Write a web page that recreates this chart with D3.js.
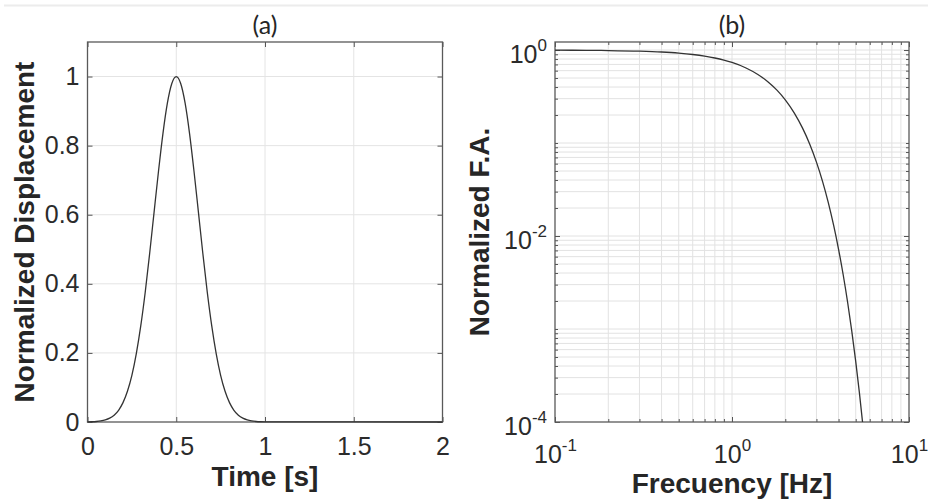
<!DOCTYPE html>
<html>
<head>
<meta charset="utf-8">
<script src="https://cdn.jsdelivr.net/npm/d3@7"></script>
<style>
  body { margin: 0; background: #fff; }
  svg { display: block; }
  .tick text { font-family: "Liberation Sans", Arial, sans-serif; fill: #2b2b2b; }
  .label { font-family: "Liberation Sans", Arial, sans-serif; font-weight: bold; font-size: 28px; fill: #262626; }
  .title { font-family: Lato, "Open Sans", sans-serif; font-size: 25px; fill: #262626; }
</style>
</head>
<body>
<div id="container"></div>
<script>
// (a) pulse
var timeS = [0, 0.025, 0.05, 0.075, 0.1, 0.125, 0.15, 0.175, 0.2, 0.225, 0.25, 0.275, 0.3, 0.325, 0.35, 0.375, 0.4, 0.425, 0.45, 0.475,
  0.5, 0.525, 0.55, 0.575, 0.6, 0.625, 0.65, 0.675, 0.7, 0.725, 0.75, 0.775, 0.8, 0.825, 0.85, 0.875, 0.9, 0.925, 0.95, 0.975, 1.0, 2.0];
var dispN = [0.0003, 0.0007, 0.0015, 0.0031, 0.006, 0.0111, 0.0198, 0.034, 0.0561, 0.0889, 0.135, 0.198, 0.278, 0.375, 0.487, 0.607, 0.726, 0.835, 0.923, 0.98,
  1.0, 0.98, 0.923, 0.835, 0.726, 0.607, 0.487, 0.375, 0.278, 0.198, 0.135, 0.0889, 0.0561, 0.034, 0.0198, 0.0111, 0.006, 0.0031, 0.0015, 0.0007, 0.0003, 0];

// (b) spectrum
var freqHz = [0.1, 0.15, 0.2, 0.3, 0.4, 0.5, 0.6, 0.7, 0.8, 0.9, 1.0, 1.2, 1.4, 1.6, 1.8, 2.0, 2.25, 2.5, 2.75, 3.0,
  3.25, 3.5, 3.75, 4.0, 4.25, 4.5, 4.75, 5.0, 5.25, 5.5, 5.75];
var fourierA = [0.9969, 0.9931, 0.9877, 0.9726, 0.9519, 0.9258, 0.8949, 0.8598, 0.8209, 0.779, 0.7346, 0.6414, 0.5463, 0.4541, 0.3681, 0.2913, 0.2099, 0.1455, 0.0971, 0.0623,
  0.0385, 0.0229, 0.01308, 0.0072, 0.00381, 0.00194, 0.000951, 0.000448, 0.000203, 0.0000887, 0.0000373];

var timeTicks = [0, 0.5, 1, 1.5, 2];
var timeLabels = ["0", "0.5", "1", "1.5", "2"];
var dispTicks = [0, 0.2, 0.4, 0.6, 0.8, 1];
var dispLabels = ["0", "0.2", "0.4", "0.6", "0.8", "1"];
var freqTicks = [0.1, 1, 10];
var freqExp = ["-1", "0", "1"];
var faTicks = [1e-4, 1e-2, 1];
var faExp = ["-4", "-2", "0"];

var width = 928, height = 500;
var svg = d3.select("#container").append("svg")
  .attr("width", width)
  .attr("height", height);

// faint rule at the very top
svg.append("line")
  .attr("x1", 4).attr("x2", width).attr("y1", 5.5).attr("y2", 5.5)
  .attr("stroke", "#ececec").attr("stroke-width", 2);

var pa = {x0: 87.5, x1: 442.5, y0: 42, y1: 422};
var pb = {x0: 555, x1: 909, y0: 42, y1: 422};

var xA = d3.scaleLinear().domain([0, 2]).range([pa.x0, pa.x1]);
var yA = d3.scaleLinear().domain([0, 1.1]).range([pa.y1, pa.y0]);
var xB = d3.scaleLog().domain([0.1, 10]).range([pb.x0, pb.x1]);
var yB = d3.scaleLog().domain([1e-4, 1.22]).range([pb.y1, pb.y0]);

function styleTicks(g, color) {
  g.select(".domain").remove();
  g.selectAll(".tick line").attr("stroke", color);
}

// grid lines
function grid(p, xs, ys, xv, yv, color) {
  var g = svg.append("g");
  g.selectAll(".gx").data(xv).enter().append("line")
    .attr("x1", function(d) { return xs(d); }).attr("x2", function(d) { return xs(d); })
    .attr("y1", p.y0).attr("y2", p.y1)
    .attr("stroke", color).attr("stroke-width", 1);
  g.selectAll(".gy").data(yv).enter().append("line")
    .attr("y1", function(d) { return ys(d); }).attr("y2", function(d) { return ys(d); })
    .attr("x1", p.x0).attr("x2", p.x1)
    .attr("stroke", color).attr("stroke-width", 1);
}

grid(pa, xA, yA, timeTicks.slice(1, -1), dispTicks.slice(1), "#e4e4e4");
grid(pb, xB, yB, xB.ticks().filter(function(d) { return d > 0.1 && d < 10; }),
  yB.ticks().filter(function(d) { return d > 1e-4; }), "#e2e2e2");

// ---- panel (a) ----
svg.append("g")
  .attr("transform", "translate(0," + pa.y1 + ")")
  .call(d3.axisBottom(xA).tickValues(timeTicks).tickSize(-5).tickPadding(15)
    .tickFormat(function(d, i) { return timeLabels[i]; }))
  .call(styleTicks, "#555")
  .selectAll("text").style("font-size", "25px");

svg.append("g")
  .attr("transform", "translate(0," + pa.y0 + ")")
  .call(d3.axisTop(xA).tickValues(timeTicks).tickSize(-5).tickFormat(""))
  .call(styleTicks, "#555");

svg.append("g")
  .attr("transform", "translate(" + pa.x0 + ",0)")
  .call(d3.axisLeft(yA).tickValues(dispTicks).tickSize(-5).tickPadding(8)
    .tickFormat(function(d, i) { return dispLabels[i]; }))
  .call(styleTicks, "#555")
  .selectAll("text").style("font-size", "25px");

svg.append("g")
  .attr("transform", "translate(" + pa.x1 + ",0)")
  .call(d3.axisRight(yA).tickValues(dispTicks).tickSize(-5).tickFormat(""))
  .call(styleTicks, "#555");

svg.append("rect")
  .attr("x", pa.x0).attr("y", pa.y0)
  .attr("width", pa.x1 - pa.x0).attr("height", pa.y1 - pa.y0)
  .attr("fill", "none").attr("stroke", "#595959").attr("stroke-width", 1.3);

var pulse = timeS.map(function(t, i) { return [t, dispN[i]]; });
svg.append("path")
  .datum(pulse)
  .attr("fill", "none")
  .attr("stroke", "#333")
  .attr("stroke-width", 1.3)
  .attr("d", d3.line()
    .x(function(d) { return xA(d[0]); })
    .y(function(d) { return yA(d[1]); })
    .curve(d3.curveMonotoneX));

svg.append("text").attr("class", "title")
  .attr("x", (pa.x0 + pa.x1) / 2).attr("y", 34)
  .attr("text-anchor", "middle").text("(a)");

svg.append("text").attr("class", "label")
  .attr("x", (pa.x0 + pa.x1) / 2).attr("y", 486)
  .attr("text-anchor", "middle").text("Time [s]");

svg.append("text").attr("class", "label")
  .attr("transform", "translate(34," + ((pa.y0 + pa.y1) / 2) + ") rotate(-90)")
  .attr("text-anchor", "middle").text("Normalized Displacement");

// ---- panel (b) ----
var xMinor = xB.ticks();
var yMinor = yB.ticks();

svg.append("g")
  .attr("transform", "translate(0," + pb.y1 + ")")
  .call(d3.axisBottom(xB).tickValues(xMinor).tickSize(-3).tickFormat(""))
  .call(styleTicks, "#555");
svg.append("g")
  .attr("transform", "translate(0," + pb.y0 + ")")
  .call(d3.axisTop(xB).tickValues(xMinor).tickSize(-3).tickFormat(""))
  .call(styleTicks, "#555");
svg.append("g")
  .attr("transform", "translate(" + pb.x0 + ",0)")
  .call(d3.axisLeft(yB).tickValues(yMinor).tickSize(-3).tickFormat(""))
  .call(styleTicks, "#555");
svg.append("g")
  .attr("transform", "translate(" + pb.x1 + ",0)")
  .call(d3.axisRight(yB).tickValues(yMinor).tickSize(-3).tickFormat(""))
  .call(styleTicks, "#555");

// major ticks with 10^n labels
var bx = svg.append("g")
  .attr("transform", "translate(0," + pb.y1 + ")")
  .call(d3.axisBottom(xB).tickValues(freqTicks).tickSize(-5).tickPadding(0).tickFormat(""))
  .call(styleTicks, "#555");
bx.selectAll(".tick").append("text")
  .attr("text-anchor", "middle")
  .attr("y", 41)
  .each(function(d, i) {
    var t = d3.select(this);
    t.append("tspan").style("font-size", "25px").text("10");
    t.append("tspan").style("font-size", "17px").attr("dy", -12).text(freqExp[i]);
  });

var by = svg.append("g")
  .attr("transform", "translate(" + pb.x0 + ",0)")
  .call(d3.axisLeft(yB).tickValues(faTicks).tickSize(-5).tickPadding(0).tickFormat(""))
  .call(styleTicks, "#555");
by.selectAll(".tick").append("text")
  .attr("text-anchor", "end")
  .attr("x", -8)
  .attr("y", 12)
  .each(function(d, i) {
    var t = d3.select(this);
    t.append("tspan").style("font-size", "25px").text("10");
    t.append("tspan").style("font-size", "17px").attr("dy", -12).text(faExp[i]);
  });

svg.append("g")
  .attr("transform", "translate(0," + pb.y0 + ")")
  .call(d3.axisTop(xB).tickValues(freqTicks).tickSize(-5).tickFormat(""))
  .call(styleTicks, "#555");
svg.append("g")
  .attr("transform", "translate(" + pb.x1 + ",0)")
  .call(d3.axisRight(yB).tickValues(faTicks).tickSize(-5).tickFormat(""))
  .call(styleTicks, "#555");

svg.append("rect")
  .attr("x", pb.x0).attr("y", pb.y0)
  .attr("width", pb.x1 - pb.x0).attr("height", pb.y1 - pb.y0)
  .attr("fill", "none").attr("stroke", "#595959").attr("stroke-width", 1.3);

svg.append("clipPath").attr("id", "clipB")
  .append("rect")
  .attr("x", pb.x0).attr("y", pb.y0)
  .attr("width", pb.x1 - pb.x0).attr("height", pb.y1 - pb.y0);

var spec = freqHz.map(function(f, i) { return [f, fourierA[i]]; });
svg.append("path")
  .datum(spec)
  .attr("clip-path", "url(#clipB)")
  .attr("fill", "none")
  .attr("stroke", "#333")
  .attr("stroke-width", 1.3)
  .attr("d", d3.line()
    .x(function(d) { return xB(d[0]); })
    .y(function(d) { return yB(d[1]); })
    .curve(d3.curveMonotoneX));

svg.append("text").attr("class", "title")
  .attr("x", (pb.x0 + pb.x1) / 2).attr("y", 34)
  .attr("text-anchor", "middle").text("(b)");

svg.append("text").attr("class", "label")
  .attr("x", (pb.x0 + pb.x1) / 2).attr("y", 493)
  .attr("text-anchor", "middle").text("Frecuency [Hz]");

svg.append("text").attr("class", "label")
  .attr("transform", "translate(489," + ((pb.y0 + pb.y1) / 2) + ") rotate(-90)")
  .attr("text-anchor", "middle").text("Normalized F.A.");
</script>
</body>
</html>
